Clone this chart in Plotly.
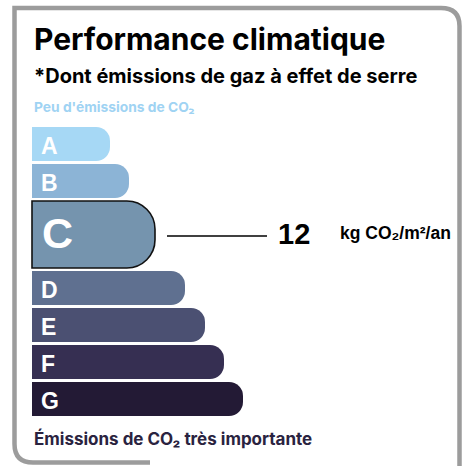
import plotly.graph_objects as go

# ---- data ----
classes = ["A", "B", "C", "D", "E", "F", "G"]
bar_lengths = [78, 97, 123, 153, 173, 192, 211]
bar_colors = ["#a6d8f5", "#8cb4d6", "#7594ae", "#5f7090", "#4b5072", "#362f52", "#231a35"]
active_class = "C"
value = 12
unit = "kg CO₂/m²/an"
title = "Performance climatique"
subtitle = "*Dont émissions de gaz à effet de serre"
top_label = "Peu d'émissions de CO₂"
bottom_label = "Émissions de CO₂ très importante"

W, H = 462, 466
x0 = 32
small_h, big_h, gap = 34, 67, 3
top0 = 127


def px(x):
    """pixel column -> x-axis units (bars start at 0)"""
    return x - x0


centers, heights = [], []
y = top0
for c in classes:
    h = big_h if c == active_class else small_h
    centers.append(y + h / 2)
    heights.append(h)
    y += h + gap

line_w = [1.6 if c == active_class else 0 for c in classes]

fig = go.Figure()
fig.add_trace(go.Bar(
    orientation="h",
    y=centers,
    x=bar_lengths,
    width=heights,
    marker=dict(color=bar_colors, line=dict(color="#111111", width=line_w), cornerradius="42%"),
    hoverinfo="skip",
    showlegend=False,
))

ann = []
for c, yc, h in zip(classes, centers, heights):
    big = c == active_class
    ann.append(dict(x=px(39 if not big else 40), y=yc + (1.5 if not big else -2), xref="x", yref="y",
                    text=f"<b>{c}</b>", showarrow=False, xanchor="left", yanchor="middle",
                    font=dict(family="Liberation Sans, Arial", size=43 if big else 23, color="white")))

ai = classes.index(active_class)
ay = centers[ai]
aend = bar_lengths[ai]

ann += [
    dict(x=px(32), y=38.5, xref="x", yref="y", text=f"<b>{title}</b>", showarrow=False,
         xanchor="left", yanchor="middle", font=dict(family="Inter, Liberation Sans", size=30, color="#000000")),
    dict(x=px(32), y=76, xref="x", yref="y", text=f"<b>{subtitle}</b>", showarrow=False,
         xanchor="left", yanchor="middle", font=dict(family="Inter, Liberation Sans", size=20, color="#000000")),
    dict(x=px(32), y=106.5, xref="x", yref="y", text=f"<b>{top_label}</b>", showarrow=False,
         xanchor="left", yanchor="middle", font=dict(family="Inter, Liberation Sans", size=13.8, color="#9fd3f3")),
    dict(x=px(32), y=438, xref="x", yref="y", text=f"<b>{bottom_label}</b>", showarrow=False,
         xanchor="left", yanchor="middle", font=dict(family="Inter, Liberation Sans", size=17, color="#2a2340")),
    dict(x=px(276), y=ay - 1, xref="x", yref="y", text=f"<b>{value}</b>", showarrow=False,
         xanchor="left", yanchor="middle", font=dict(family="Liberation Sans, Arial", size=29, color="#000000")),
    dict(x=px(338), y=ay - 2, xref="x", yref="y", text=f"<b>{unit}</b>", showarrow=False,
         xanchor="left", yanchor="middle", font=dict(family="Liberation Sans, Arial", size=17.5, color="#000000")),
]

# frame path drawn in pixel space (x axis offset by x0)
fx = lambda v: v - x0
frame = (f"M {fx(150)} 462.5 L {fx(33)} 462.5 Q {fx(14.5)} 462.5 {fx(14.5)} 444 "
         f"L {fx(14.5)} 8 L {fx(441)} 8 Q {fx(459.5)} 8 {fx(459.5)} 26 L {fx(459.5)} 470")

shapes = [
    # leader line from the active bar to the value
    dict(type="line", xref="x", yref="y", x0=aend + 12, x1=px(267), y0=ay + 1.5, y1=ay + 1.5,
         line=dict(color="#000000", width=1.6)),
    dict(type="path", xref="x", yref="y", path=frame,
         line=dict(color="#9c9c9c", width=4.5), fillcolor="rgba(0,0,0,0)", layer="below"),
]

fig.update_layout(
    width=W, height=H,
    margin=dict(l=0, r=0, t=0, b=0),
    paper_bgcolor="white", plot_bgcolor="white",
    xaxis=dict(range=[-x0, W - x0], visible=False, fixedrange=True),
    yaxis=dict(range=[H, 0], visible=False, fixedrange=True),
    annotations=ann, shapes=shapes,
    hovermode=False,
)
fig.write_html("out.html", config={"displayModeBar": False},
               post_script="document.body.style.margin='0';document.body.style.overflow='hidden';")
